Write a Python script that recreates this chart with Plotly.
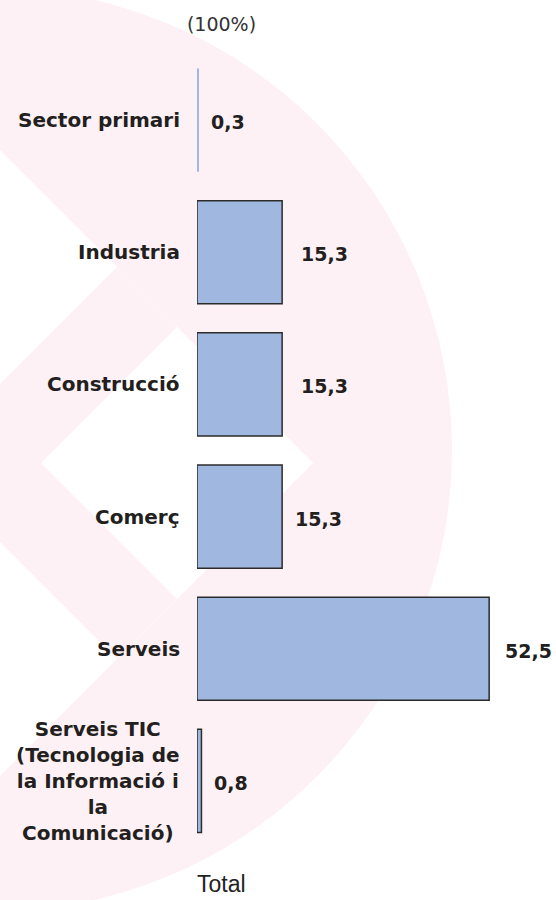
import plotly.graph_objects as go

# ---- data ----
categories = ["Sector primari", "Industria", "Construcció", "Comerç", "Serveis",
              "Serveis TIC (Tecnologia de la Informació i la Comunicació)"]
category_labels = ["Sector primari", "Industria", "Construcció", "Comerç", "Serveis",
                   "Serveis TIC<br>(Tecnologia de<br>la Informació i<br>la<br>Comunicació)"]
values = [0.3, 15.3, 15.3, 15.3, 52.5, 0.8]
value_labels = ["0,3", "15,3", "15,3", "15,3", "52,5", "0,8"]
title_text = "(100%)"
axis_title = "Total"

# ---- styling ----
label_xshift = [10, 17, 17, 11, 14, 11]
bar_outline = [0, 1.5, 1.5, 1.5, 1.5, 1.5]
W, H = 556, 900
ML, MR, MT, MB = 197, 0, 54, 53
PW, PH = W - ML - MR, H - MT - MB
PINK = "#FDF1F5"
BAR = "#A0B8E0"
TXT = "#231F20"


def px(x):
    return (x - ML) / PW


def py(y):
    return (H - MB - y) / PH


def diamond(cx, cy, d):
    pts = [(cx - d, cy), (cx, cy - d), (cx + d, cy), (cx, cy + d)]
    return "M " + " L ".join(f"{px(a):.4f},{py(b):.4f}" for a, b in pts) + " Z"


fig = go.Figure()
fig.add_trace(go.Bar(
    x=values, y=categories, orientation="h",
    marker=dict(color=BAR, line=dict(color="#2B2B2B", width=bar_outline)),
    hoverinfo="skip",
))

shapes = [
    dict(type="circle", xref="paper", yref="paper", layer="below",
         x0=px(-10 - 462), x1=px(-10 + 462), y0=py(450 + 462), y1=py(450 - 462),
         fillcolor=PINK, line=dict(width=0)),
    dict(type="path", xref="paper", yref="paper", layer="below",
         path=diamond(0, 463, 313), fillcolor="white", line=dict(width=0)),
    dict(type="path", xref="paper", yref="paper", layer="below",
         path=diamond(117, 463, 196), fillcolor=PINK, line=dict(width=0)),
    dict(type="path", xref="paper", yref="paper", layer="below",
         path=diamond(177, 463, 136), fillcolor="white", line=dict(width=0)),
]

annotations = []
for c, lab in zip(categories, category_labels):
    annotations.append(dict(
        x=0, y=c, xref="x", yref="y", text=lab, showarrow=False,
        xanchor="right", yanchor="middle", xshift=-15, align="center",
        font=dict(family="DejaVu Sans", size=20, color=TXT, weight="bold"),
    ))
for c, v, t, s in zip(categories, values, value_labels, label_xshift):
    annotations.append(dict(
        x=v, y=c, xref="x", yref="y", text=t, showarrow=False,
        xanchor="left", yanchor="middle", xshift=s, yshift=-2,
        font=dict(family="DejaVu Sans", size=19, color=TXT, weight="bold"),
    ))
annotations.append(dict(
    x=px(221.5), y=py(899), xref="paper", yref="paper", text=axis_title,
    showarrow=False, xanchor="center", yanchor="bottom",
    font=dict(family="Liberation Sans", size=23, color="#222222"),
))

fig.update_layout(
    width=W, height=H,
    margin=dict(l=ML, r=MR, t=MT, b=MB, pad=0),
    paper_bgcolor="white", plot_bgcolor="rgba(0,0,0,0)",
    showlegend=False, bargap=0.22,
    shapes=shapes, annotations=annotations,
    title=dict(text=title_text, x=221.5 / W, xref="container", xanchor="center",
               y=1 - 24 / H, yref="container", yanchor="middle",
               font=dict(family="DejaVu Sans", size=19, color="#333333")),
    xaxis=dict(range=[0, PW / 5.565], visible=False, fixedrange=True),
    yaxis=dict(autorange="reversed", showticklabels=False, showgrid=False,
               zeroline=False, showline=False, ticks="", fixedrange=True),
)

fig.write_html("out.html", config={"displayModeBar": False},
               post_script="document.body.style.margin='0';document.body.style.overflow='hidden';")
